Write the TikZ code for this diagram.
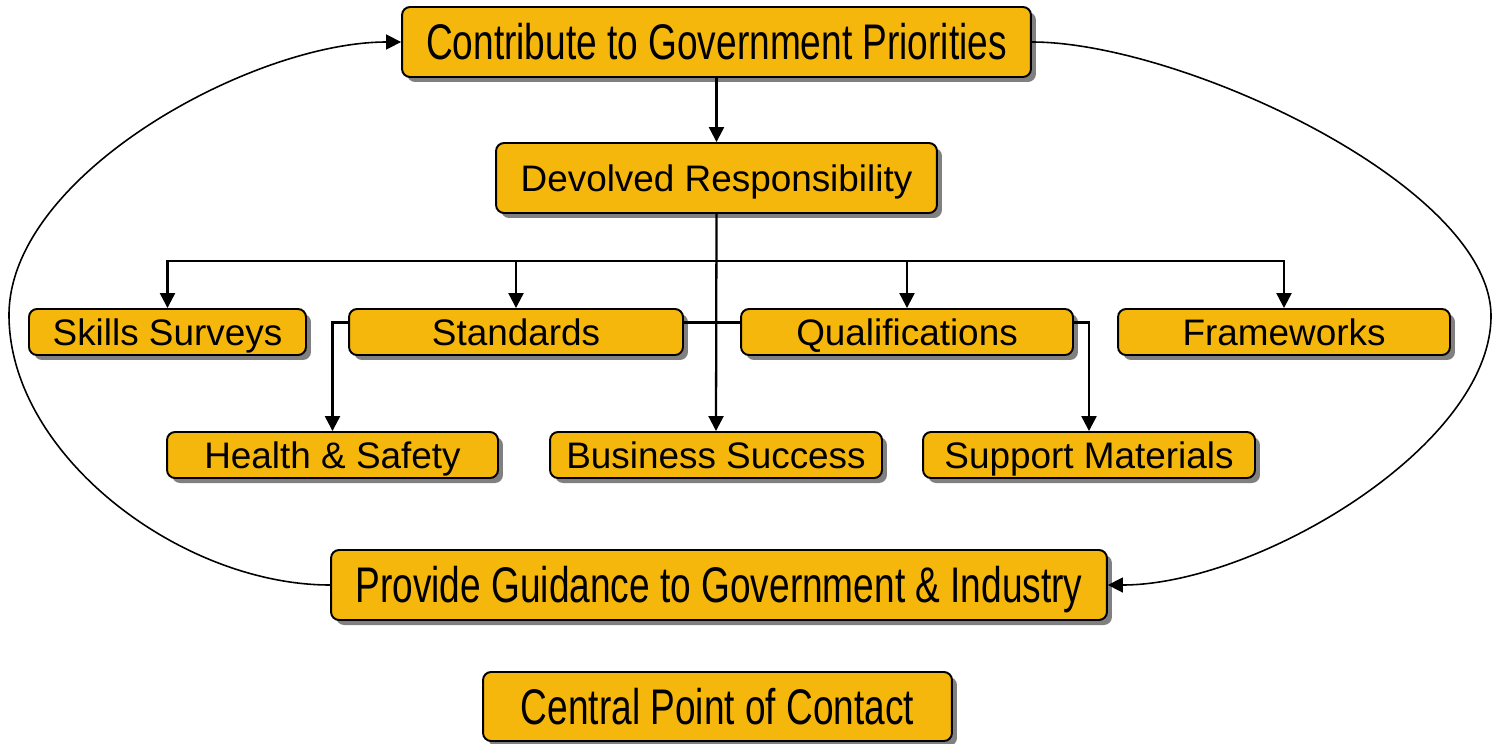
\documentclass[tikz,border=0pt]{standalone}
\usepackage{fontspec}
\usepackage{graphicx}
\setmainfont{Liberation Sans}
\usetikzlibrary{arrows.meta,shadows,calc}
\definecolor{boxfill}{RGB}{245,183,12}
\definecolor{shadowgrey}{RGB}{128,128,128}
\newcommand\condtext[1]{\scalebox{0.74}[1]{\fontsize{28.5}{34}\selectfont #1}}
\begin{document}
\begin{tikzpicture}[x=0.02cm,y=-0.02cm,
  box/.style={draw=black, line width=1.1pt, fill=boxfill, rounded corners=0.16cm,
    inner sep=0pt, drop shadow={shadow xshift=0.1cm, shadow yshift=-0.1cm, fill=shadowgrey, opacity=1},
    font=\fontsize{21}{25}\selectfont, minimum height=0.92cm, text height=15.1pt, text depth=0pt},
  bigbox/.style={box, minimum height=1.4cm},
  condbox/.style={bigbox, text height=20.4pt, text depth=0pt},
  link/.style={draw=black, line width=1.3pt},
  conn/.style={link, -{Triangle[length=0.3cm,width=0.3cm]}},
  loopline/.style={draw=black, line width=0.9pt, -{Triangle[length=0.3cm,width=0.3cm]}}]
\useasboundingbox (0,0) rectangle (1495,744);

\node[condbox, minimum width=12.58cm] (top) at (716.5,42) {\condtext{Contribute to Government Priorities}};
\node[bigbox, minimum width=8.82cm] (dev) at (716.5,178) {Devolved Responsibility};
\node[box, minimum width=5.54cm] (skills) at (167.5,332) {Skills Surveys};
\node[box, minimum width=6.68cm] (std) at (516,332) {Standards};
\node[box, minimum width=6.64cm] (qual) at (907,332) {Qualifications};
\node[box, minimum width=6.64cm] (frame) at (1284,332) {Frameworks};
\node[box, minimum width=6.62cm] (hs) at (332.5,455) {Health \& Safety};
\node[box, minimum width=6.64cm] (bs) at (716,455) {Business Success};
\node[box, minimum width=6.64cm] (sm) at (1089,455) {Support Materials};
\node[condbox, minimum width=15.52cm] (prov) at (719,585) {\condtext{Provide Guidance to Government \& Industry}};
\node[condbox, minimum width=9.38cm, minimum height=1.38cm] (cpc) at (717.5,706.5) {\condtext{Central Point of Contact}};

\coordinate (bus) at (716,261);
\coordinate (lx) at (9,315);
\coordinate (rx) at (1491,316);

\draw[conn] (top.south) -- (dev.north);
\draw[conn] (dev.south) -- (bs.north);
\draw[conn] (bus) -| (skills.north);
\draw[conn] (bus) -| (std.north);
\draw[conn] (bus) -| (qual.north);
\draw[conn] (bus) -| (frame.north);

\draw[link] ($(std.north east)!0.3!(std.south east)$) -- ($(qual.north west)!0.3!(qual.south west)$);
\draw[conn] ($(std.north west)!0.3!(std.south west)$) -| (hs.north);
\draw[conn] ($(qual.north east)!0.3!(qual.south east)$) -| (sm.north);

\draw[loopline] (prov.west) .. controls (181,585) and (9,455) .. (lx) .. controls (9,175) and (252,42) .. (top.west);
\draw[loopline] (top.east) .. controls (1181,42) and (1491,186) .. (rx) .. controls (1491,446) and (1257,585) .. (prov.east);
\end{tikzpicture}
\end{document}
